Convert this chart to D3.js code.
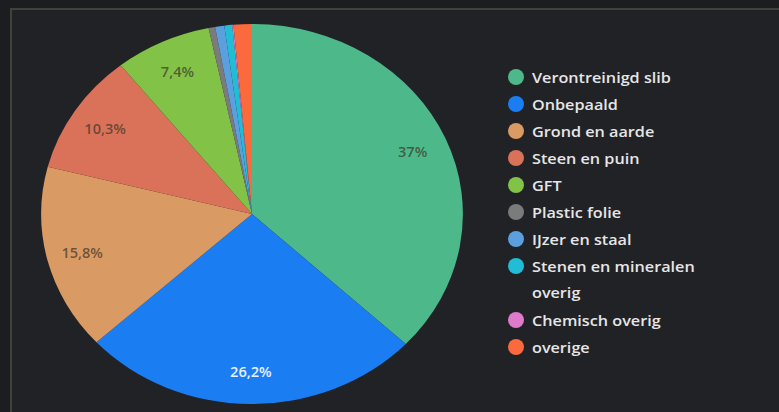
<!DOCTYPE html>
<html>
<head>
<meta charset="utf-8">
<script src="https://cdn.jsdelivr.net/npm/d3@7"></script>
<style>
  html, body { margin: 0; padding: 0; background: #1c1d20; }
  svg { display: block; }
</style>
</head>
<body>
<div id="content"></div>
<script>
// waste categories and their share (%)
let categories = ['Verontreinigd slib', 'Onbepaald', 'Grond en aarde', 'Steen en puin', 'GFT',
    'Plastic folie', 'IJzer en staal', 'Stenen en mineralen overig', 'Chemisch overig', 'overige'];
let shares = [37, 26.2, 15.8, 10.3, 7.4, 0.5, 0.7, 0.6, 0.1, 1.4];
let labels = ['37%', '26,2%', '15,8%', '10,3%', '7,4%', '', '', '', '', ''];
let colors = ['#4db98a', '#1a7ef2', '#d99b63', '#d97258', '#82c247', '#7b7b7b', '#5b9fdf', '#20bdd5', '#e07acb', '#fb6a3c'];

let width = 779;
let height = 412;
let cx = 252, cy = 214;
let ry = 190;
let sx = 1.11; // the source picture is stretched sideways

let svg = d3.select('#content').append('svg').attr('width', width).attr('height', height);

// panel
svg.append('rect').attr('x', 11).attr('y', 9).attr('width', width).attr('height', height)
    .attr('fill', '#212226').attr('stroke', '#3c4339').attr('stroke-width', 2);

let data = categories.map((c, i) => ({ name: c, value: shares[i], label: labels[i], color: colors[i] }));
let pie = d3.pie().value(d => d.value).sort(null);
let arcs = pie(data);
let arc = d3.arc().innerRadius(0).outerRadius(ry);
let labelArc = d3.arc().innerRadius(ry * 0.83).outerRadius(ry * 0.83);

let g = svg.append('g').attr('transform', `translate(${cx},${cy}) scale(${sx},1)`);
g.selectAll('path').data(arcs).enter().append('path')
    .attr('d', arc)
    .attr('fill', d => d.data.color);

svg.append('g').selectAll('text').data(arcs.filter(d => d.data.label)).enter().append('text')
    .attr('transform', d => `translate(${cx + labelArc.centroid(d)[0] * sx},${cy + labelArc.centroid(d)[1]}) scale(1.08,1)`)
    .attr('text-anchor', 'middle')
    .attr('dominant-baseline', 'central')
    .style('font-family', 'Open Sans, sans-serif')
    .style('font-size', '13.5px')
    .style('font-weight', '600')
    .style('fill', d => d.data.name === 'Onbepaald' ? '#e8f0ff' : 'rgba(60,50,40,0.7)')
    .text(d => d.data.label);

// legend
let legendY = d3.scaleLinear().domain([0, 1]).range([77, 104]);
let rowPos = [0, 1, 2, 3, 4, 5, 6, 7, 9, 10];
let legend = svg.append('g');
let items = legend.selectAll('g').data(data).enter().append('g')
    .attr('transform', (d, i) => `translate(516,${legendY(rowPos[i])})`);
items.append('circle').attr('r', 8).attr('fill', d => d.color);
items.append('text')
    .attr('transform', 'translate(16,0) scale(1.08,1)')
    .attr('dominant-baseline', 'central')
    .style('font-family', 'Open Sans, sans-serif')
    .style('font-size', '15px')
    .style('font-weight', '600')
    .style('fill', '#e6e6e6')
    .each(function (d) {
        let t = d3.select(this);
        if (d.name === 'Stenen en mineralen overig') {
            t.append('tspan').attr('x', 0).text('Stenen en mineralen');
            t.append('tspan').attr('x', 0).attr('dy', 26).text('overig');
        } else {
            t.text(d.name);
        }
    });
</script>
</body>
</html>
